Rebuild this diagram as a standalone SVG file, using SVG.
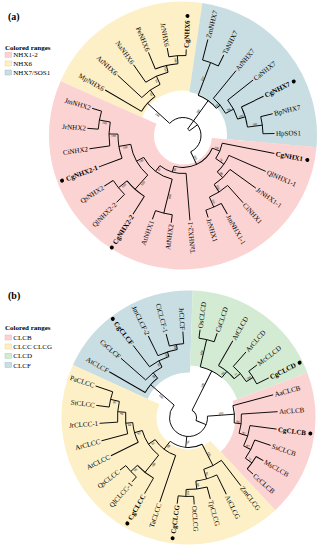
<svg xmlns="http://www.w3.org/2000/svg" width="323" height="550" viewBox="0 0 323 550">
<style>
.br line,.br circle{fill:none;stroke:#000;stroke-width:0.9}
.lb{font-family:"Liberation Serif","Times New Roman",serif;font-size:7px;fill:#000}
.cg{font-weight:bold}
.e{text-anchor:end}
.bs{font-family:"Liberation Serif","Times New Roman",serif;font-size:3.2px;text-anchor:middle;fill:#000}
.wd{fill:none}
.pk{stroke:#fcd3d3}
.yl{stroke:#fdf0c6}
.bl{stroke:#c9dee3}
.gn{stroke:#d4ebd3}
.lg{font-family:"Liberation Serif","Times New Roman",serif;font-size:7px;fill:#000}
.tt{font-family:"Liberation Serif","Times New Roman",serif;font-size:10px;font-weight:bold;fill:#000}
.dot{fill:#000}
</style>
<rect width="323" height="550" fill="#fff"/>

<!-- ===== Panel (a) ===== -->
<text class="tt" x="8" y="19.5">(a)</text>
<g id="legend-a">
<text class="lg cg" x="5" y="50">Colored ranges</text>
<rect x="5" y="52.3" width="6.7" height="5" fill="#fcd3d3" stroke="#f3b3b3" stroke-width="0.5"/>
<text class="lg" x="13.3" y="57">NHX1-2</text>
<rect x="5" y="61" width="6.7" height="5" fill="#fdf0c6" stroke="#ecd58f" stroke-width="0.5"/>
<text class="lg" x="13.3" y="66">NHX6</text>
<rect x="5" y="70" width="6.7" height="5" fill="#c9dee3" stroke="#9fc0c9" stroke-width="0.5"/>
<text class="lg" x="13.3" y="75">NHX7/SOS1</text>
</g>

<g id="tree-a" transform="translate(183 135.5)">
<g id="ranges-a">
<circle class="wd yl" r="89.5" stroke-width="89" pathLength="360" stroke-dasharray="74.2 400" transform="rotate(204.1)"/>
<circle class="wd bl" r="89" stroke-width="90" pathLength="360" stroke-dasharray="86.6 400" transform="rotate(278.3)"/>
<circle class="wd pk" r="81.5" stroke-width="105" pathLength="360" stroke-dasharray="199.2 400" transform="rotate(4.9)"/>
</g>
<g id="connectors-a" class="br">
<circle r="8" pathLength="360" stroke-dasharray="17.72 400" transform="rotate(305.78)"/>
<circle r="18" pathLength="360" stroke-dasharray="202.47 400" transform="rotate(222.28)"/>
<circle r="48" pathLength="360" stroke-dasharray="23.97 400" transform="rotate(210.3)"/>
<circle r="56" pathLength="360" stroke-dasharray="23.2 400" transform="rotate(222.67)"/>
<circle r="65" pathLength="360" stroke-dasharray="21.65 400" transform="rotate(235.04)"/>
<circle r="72" pathLength="360" stroke-dasharray="18.56 400" transform="rotate(247.41)"/>
<circle r="80" pathLength="360" stroke-dasharray="12.37 400" transform="rotate(259.78)"/>
<circle r="43" pathLength="360" stroke-dasharray="30.16 400" transform="rotate(290.7)"/>
<circle r="78" pathLength="360" stroke-dasharray="12.37 400" transform="rotate(284.52)"/>
<circle r="48" pathLength="360" stroke-dasharray="23.19 400" transform="rotate(309.26)"/>
<circle r="57" pathLength="360" stroke-dasharray="21.65 400" transform="rotate(321.63)"/>
<circle r="65" pathLength="360" stroke-dasharray="18.56 400" transform="rotate(334)"/>
<circle r="80" pathLength="360" stroke-dasharray="12.37 400" transform="rotate(346.37)"/>
<circle r="32" pathLength="360" stroke-dasharray="83.31 400" transform="rotate(23.09)"/>
<circle r="40" pathLength="360" stroke-dasharray="23.97 400" transform="rotate(11.11)"/>
<circle r="50" pathLength="360" stroke-dasharray="23.19 400" transform="rotate(23.48)"/>
<circle r="58" pathLength="360" stroke-dasharray="21.65 400" transform="rotate(35.85)"/>
<circle r="67" pathLength="360" stroke-dasharray="18.56 400" transform="rotate(48.22)"/>
<circle r="78" pathLength="360" stroke-dasharray="12.37 400" transform="rotate(60.59)"/>
<circle r="38" pathLength="360" stroke-dasharray="42.14 400" transform="rotate(85.33)"/>
<circle r="45" pathLength="360" stroke-dasharray="47.16 400" transform="rotate(103.89)"/>
<circle r="80" pathLength="360" stroke-dasharray="12.37 400" transform="rotate(97.7)"/>
<circle r="53" pathLength="360" stroke-dasharray="38.66 400" transform="rotate(131.72)"/>
<circle r="72" pathLength="360" stroke-dasharray="18.56 400" transform="rotate(122.44)"/>
<circle r="83" pathLength="360" stroke-dasharray="12.37 400" transform="rotate(134.81)"/>
<circle r="65" pathLength="360" stroke-dasharray="21.65 400" transform="rotate(159.55)"/>
<circle r="74" pathLength="360" stroke-dasharray="18.56 400" transform="rotate(171.92)"/>
<circle r="85" pathLength="360" stroke-dasharray="12.37 400" transform="rotate(184.29)"/>
<line x1="8" x2="18" transform="rotate(323.5)"/>
<line x1="8" x2="43" transform="rotate(305.78)"/>
<line x1="18" x2="48" transform="rotate(222.28)"/>
<line x1="18" x2="32" transform="rotate(64.75)"/>
<line x1="48" x2="56" transform="rotate(234.27)"/>
<line x1="56" x2="65" transform="rotate(245.87)"/>
<line x1="65" x2="72" transform="rotate(256.69)"/>
<line x1="72" x2="80" transform="rotate(265.97)"/>
<line x1="43" x2="78" transform="rotate(290.7)"/>
<line x1="43" x2="48" transform="rotate(320.86)"/>
<line x1="48" x2="57" transform="rotate(332.45)"/>
<line x1="57" x2="65" transform="rotate(343.28)"/>
<line x1="65" x2="80" transform="rotate(352.56)"/>
<line x1="32" x2="40" transform="rotate(23.09)"/>
<line x1="40" x2="50" transform="rotate(35.08)"/>
<line x1="50" x2="58" transform="rotate(46.67)"/>
<line x1="58" x2="67" transform="rotate(57.5)"/>
<line x1="67" x2="78" transform="rotate(66.78)"/>
<line x1="32" x2="38" transform="rotate(106.4)"/>
<line x1="38" x2="45" transform="rotate(127.47)"/>
<line x1="45" x2="80" transform="rotate(103.89)"/>
<line x1="45" x2="53" transform="rotate(151.05)"/>
<line x1="53" x2="72" transform="rotate(131.72)"/>
<line x1="72" x2="83" transform="rotate(141)"/>
<line x1="53" x2="65" transform="rotate(170.38)"/>
<line x1="65" x2="74" transform="rotate(181.2)"/>
<line x1="74" x2="85" transform="rotate(190.48)"/>
<line x1="48" x2="90.2" transform="rotate(210.3)"/>
<line x1="56" x2="88.9" transform="rotate(222.67)"/>
<line x1="65" x2="86.3" transform="rotate(235.04)"/>
<line x1="72" x2="90" transform="rotate(247.41)"/>
<line x1="80" x2="88.9" transform="rotate(259.78)"/>
<line x1="80" x2="86.1" transform="rotate(272.15)"/>
<line x1="78" x2="99.2" transform="rotate(284.52)"/>
<line x1="78" x2="90.2" transform="rotate(296.89)"/>
<line x1="48" x2="83.8" transform="rotate(309.26)"/>
<line x1="57" x2="89.4" transform="rotate(321.63)"/>
<line x1="65" x2="89.6" transform="rotate(334)"/>
<line x1="80" x2="92.3" transform="rotate(346.37)"/>
<line x1="80" x2="91.5" transform="rotate(358.74)"/>
<line x1="40" x2="93.1" transform="rotate(11.11)"/>
<line x1="50" x2="90.2" transform="rotate(23.48)"/>
<line x1="58" x2="89.8" transform="rotate(35.85)"/>
<line x1="67" x2="90.2" transform="rotate(48.22)"/>
<line x1="78" x2="90.2" transform="rotate(60.59)"/>
<line x1="78" x2="85.7" transform="rotate(72.96)"/>
<line x1="38" x2="85.1" transform="rotate(85.33)"/>
<line x1="80" x2="88.1" transform="rotate(97.7)"/>
<line x1="80" x2="89.2" transform="rotate(110.07)"/>
<line x1="72" x2="93.3" transform="rotate(122.44)"/>
<line x1="83" x2="94.3" transform="rotate(134.81)"/>
<line x1="83" x2="93.6" transform="rotate(147.18)"/>
<line x1="65" x2="89.7" transform="rotate(159.55)"/>
<line x1="74" x2="94.5" transform="rotate(171.92)"/>
<line x1="85" x2="95.9" transform="rotate(184.29)"/>
<line x1="85" x2="94.9" transform="rotate(196.66)"/>
</g>
<g id="support-a">
<text class="bs" transform="rotate(222.28) translate(33 -3) rotate(180)">100</text>
<text class="bs" transform="rotate(234.27) translate(52 -3) rotate(180)">98</text>
<text class="bs" transform="rotate(245.87) translate(60.5 -3) rotate(180)">54</text>
<text class="bs" transform="rotate(256.69) translate(68.5 -3) rotate(180)">100</text>
<text class="bs" transform="rotate(265.97) translate(76 -3) rotate(180)">100</text>
<text class="bs" transform="rotate(305.78) translate(28 -0.7)">100</text>
<text class="bs" transform="rotate(290.7) translate(60 -0.7)">100</text>
<text class="bs" transform="rotate(320.86) translate(45.5 -0.7)">100</text>
<text class="bs" transform="rotate(332.45) translate(52.5 -0.7)">98</text>
<text class="bs" transform="rotate(343.28) translate(61 -0.7)">100</text>
<text class="bs" transform="rotate(352.56) translate(72.5 -0.7)">100</text>
<text class="bs" transform="rotate(64.75) translate(25 -0.7)">100</text>
<text class="bs" transform="rotate(23.09) translate(36 -0.7)">100</text>
<text class="bs" transform="rotate(35.08) translate(45 -0.7)">78</text>
<text class="bs" transform="rotate(46.67) translate(54 -0.7)">99</text>
<text class="bs" transform="rotate(57.5) translate(62.5 -0.7)">100</text>
<text class="bs" transform="rotate(66.78) translate(72.5 -0.7)">100</text>
<text class="bs" transform="rotate(106.4) translate(35 -3) rotate(180)">98</text>
<text class="bs" transform="rotate(127.47) translate(41.5 -3) rotate(180)">97</text>
<text class="bs" transform="rotate(103.89) translate(62.5 -3) rotate(180)">100</text>
<text class="bs" transform="rotate(151.05) translate(49 -3) rotate(180)">100</text>
<text class="bs" transform="rotate(131.72) translate(62.5 -3) rotate(180)">100</text>
<text class="bs" transform="rotate(141) translate(77.5 -3) rotate(180)">100</text>
<text class="bs" transform="rotate(170.38) translate(59 -3) rotate(180)">100</text>
<text class="bs" transform="rotate(181.2) translate(69.5 -3) rotate(180)">100</text>
<text class="bs" transform="rotate(190.48) translate(79.5 -3) rotate(180)">100</text>
</g>
<g id="a-MpNHX6"><text class="lb e" dy="2.4" transform="rotate(210.3) translate(91.7 0) rotate(180)">MpNHX6</text></g>
<g id="a-AtNHX6"><text class="lb e" dy="2.4" transform="rotate(222.67) translate(90.4 0) rotate(180)">AtNHX6</text></g>
<g id="a-NaNHX6"><text class="lb e" dy="2.4" transform="rotate(235.04) translate(87.8 0) rotate(180)">NaNHX6</text></g>
<g id="a-PeNHX6"><text class="lb e" dy="2.4" transform="rotate(247.41) translate(91.5 0) rotate(180)">PeNHX6</text></g>
<g id="a-JrNHX6"><text class="lb e" dy="2.4" transform="rotate(259.78) translate(90.4 0) rotate(180)">JrNHX6</text></g>
<g id="a-CgNHX6"><text class="lb cg" dy="2.4" transform="rotate(272.15) translate(87.6 0)">CgNHX6</text><circle class="dot" cx="119.7" r="2" transform="rotate(272.15)"/></g>
<g id="a-ZmNHX7"><text class="lb" dy="2.4" transform="rotate(284.52) translate(100.7 0)">ZmNHX7</text></g>
<g id="a-TaNHX7"><text class="lb" dy="2.4" transform="rotate(296.89) translate(91.7 0)">TaNHX7</text></g>
<g id="a-AtNHX7"><text class="lb" dy="2.4" transform="rotate(309.26) translate(85.3 0)">AtNHX7</text></g>
<g id="a-CaNHX7"><text class="lb" dy="2.4" transform="rotate(321.63) translate(90.9 0)">CaNHX7</text></g>
<g id="a-CgNHX7"><text class="lb cg" dy="2.4" transform="rotate(334) translate(91.1 0)">CgNHX7</text><circle class="dot" cx="123.2" r="2" transform="rotate(334)"/></g>
<g id="a-BpNHX7"><text class="lb" dy="2.4" transform="rotate(346.37) translate(93.8 0)">BpNHX7</text></g>
<g id="a-HpSOS1"><text class="lb" dy="2.4" transform="rotate(358.74) translate(93 0)">HpSOS1</text></g>
<g id="a-CgNHX1"><text class="lb cg" dy="2.4" transform="rotate(11.11) translate(94.6 0)">CgNHX1</text><circle class="dot" cx="126.7" r="2" transform="rotate(11.11)"/></g>
<g id="a-QlNHX1-1"><text class="lb" dy="2.4" transform="rotate(23.48) translate(91.7 0)">QlNHX1-1</text></g>
<g id="a-JrNHX1-1"><text class="lb" dy="2.4" transform="rotate(35.85) translate(91.3 0)">JrNHX1-1</text></g>
<g id="a-CiNHX1"><text class="lb" dy="2.4" transform="rotate(48.22) translate(91.7 0)">CiNHX1</text></g>
<g id="a-JmNHX1-1"><text class="lb" dy="2.4" transform="rotate(60.59) translate(91.7 0)">JmNHX1-1</text></g>
<g id="a-JrNHX1"><text class="lb" dy="2.4" transform="rotate(72.96) translate(87.2 0)">JrNHX1</text></g>
<g id="a-TaNHX2-1"><text class="lb e" dy="2.4" transform="rotate(85.33) translate(86.6 0) rotate(180)">TaNHX2-1</text></g>
<g id="a-AtNHX2"><text class="lb e" dy="2.4" transform="rotate(97.7) translate(89.6 0) rotate(180)">AtNHX2</text></g>
<g id="a-AtNHX1"><text class="lb e" dy="2.4" transform="rotate(110.07) translate(90.7 0) rotate(180)">AtNHX1</text></g>
<g id="a-CgNHX2-2"><text class="lb e cg" dy="2.4" transform="rotate(122.44) translate(94.8 0) rotate(180)">CgNHX2-2</text><circle class="dot" cx="132.7" r="2" transform="rotate(122.44)"/></g>
<g id="a-QlNHX2-2"><text class="lb e" dy="2.4" transform="rotate(134.81) translate(95.8 0) rotate(180)">QlNHX2-2</text></g>
<g id="a-QsNHX2"><text class="lb e" dy="2.4" transform="rotate(147.18) translate(95.1 0) rotate(180)">QsNHX2</text></g>
<g id="a-CgNHX2-1"><text class="lb e cg" dy="2.4" transform="rotate(159.55) translate(91.2 0) rotate(180)">CgNHX2-1</text><circle class="dot" cx="129.1" r="2" transform="rotate(159.55)"/></g>
<g id="a-CiNHX2"><text class="lb e" dy="2.4" transform="rotate(171.92) translate(96 0) rotate(180)">CiNHX2</text></g>
<g id="a-JrNHX2"><text class="lb e" dy="2.4" transform="rotate(184.29) translate(97.4 0) rotate(180)">JrNHX2</text></g>
<g id="a-JmNHX2"><text class="lb e" dy="2.4" transform="rotate(196.66) translate(96.4 0) rotate(180)">JmNHX2</text></g>
</g>

<!-- ===== Panel (b) ===== -->
<text class="tt" x="8" y="298.5">(b)</text>
<g id="legend-b">
<text class="lg cg" x="5" y="330">Colored ranges</text>
<rect x="5" y="335" width="6.7" height="5" fill="#fcd3d3" stroke="#f3b3b3" stroke-width="0.5"/>
<text class="lg" x="13.3" y="340">CLCB</text>
<rect x="5" y="344" width="6.7" height="5" fill="#fdf0c6" stroke="#ecd58f" stroke-width="0.5"/>
<text class="lg" x="13.3" y="349">CLCC CLCG</text>
<rect x="5" y="353.3" width="6.7" height="5" fill="#d4ebd3" stroke="#a9d1a7" stroke-width="0.5"/>
<text class="lg" x="13.3" y="358.3">CLCD</text>
<rect x="5" y="362.5" width="6.7" height="5" fill="#c9dee3" stroke="#9fc0c9" stroke-width="0.5"/>
<text class="lg" x="13.3" y="367.5">CLCF</text>
</g>

<g id="tree-b" transform="translate(188.5 417.5)">
<g id="ranges-b">
<circle class="wd bl" r="86" stroke-width="82" pathLength="360" stroke-dasharray="67.5 400" transform="rotate(204.375)"/>
<circle class="wd gn" r="89.5" stroke-width="75" pathLength="360" stroke-dasharray="67.5 400" transform="rotate(271.875)"/>
<circle class="wd pk" r="87" stroke-width="80" pathLength="360" stroke-dasharray="67.5 400" transform="rotate(339.375)"/>
<circle class="wd yl" r="79.5" stroke-width="95" pathLength="360" stroke-dasharray="157.5 400" transform="rotate(46.875)"/>
</g>
<g id="connectors-b" class="br">
<circle r="8" pathLength="360" stroke-dasharray="85.5 400" transform="rotate(296.5)"/>
<circle r="19" pathLength="360" stroke-dasharray="225 400" transform="rotate(355.9)"/>
<circle r="50" pathLength="360" stroke-dasharray="21.8 400" transform="rotate(210)"/>
<circle r="57" pathLength="360" stroke-dasharray="21.09 400" transform="rotate(221.25)"/>
<circle r="64" pathLength="360" stroke-dasharray="19.69 400" transform="rotate(232.5)"/>
<circle r="69" pathLength="360" stroke-dasharray="16.88 400" transform="rotate(243.75)"/>
<circle r="74" pathLength="360" stroke-dasharray="11.25 400" transform="rotate(255)"/>
<circle r="52" pathLength="360" stroke-dasharray="26.7 400" transform="rotate(283.1)"/>
<circle r="80" pathLength="360" stroke-dasharray="11.25 400" transform="rotate(277.5)"/>
<circle r="60" pathLength="360" stroke-dasharray="19.7 400" transform="rotate(300)"/>
<circle r="68" pathLength="360" stroke-dasharray="16.85 400" transform="rotate(311.25)"/>
<circle r="76" pathLength="360" stroke-dasharray="11.25 400" transform="rotate(322.5)"/>
<circle r="46" pathLength="360" stroke-dasharray="21.8 400" transform="rotate(345)"/>
<circle r="53" pathLength="360" stroke-dasharray="21.05 400" transform="rotate(356.25)"/>
<circle r="62" pathLength="360" stroke-dasharray="19.7 400" transform="rotate(7.5)"/>
<circle r="70" pathLength="360" stroke-dasharray="16.85 400" transform="rotate(18.75)"/>
<circle r="78" pathLength="360" stroke-dasharray="11.25 400" transform="rotate(30)"/>
<circle r="30" pathLength="360" stroke-dasharray="64.6 400" transform="rotate(63)"/>
<circle r="54" pathLength="360" stroke-dasharray="21.1 400" transform="rotate(52.5)"/>
<circle r="64" pathLength="360" stroke-dasharray="19.65 400" transform="rotate(63.75)"/>
<circle r="72" pathLength="360" stroke-dasharray="16.9 400" transform="rotate(75)"/>
<circle r="79" pathLength="360" stroke-dasharray="11.25 400" transform="rotate(86.25)"/>
<circle r="40" pathLength="360" stroke-dasharray="37.65 400" transform="rotate(108.75)"/>
<circle r="48" pathLength="360" stroke-dasharray="35.9 400" transform="rotate(128.4)"/>
<circle r="70" pathLength="360" stroke-dasharray="16.9 400" transform="rotate(120)"/>
<circle r="79" pathLength="360" stroke-dasharray="11.25 400" transform="rotate(131.25)"/>
<circle r="56" pathLength="360" stroke-dasharray="21.05 400" transform="rotate(153.75)"/>
<circle r="63" pathLength="360" stroke-dasharray="19.7 400" transform="rotate(165)"/>
<circle r="71" pathLength="360" stroke-dasharray="16.85 400" transform="rotate(176.25)"/>
<circle r="80" pathLength="360" stroke-dasharray="11.25 400" transform="rotate(187.5)"/>
<line x1="8" x2="19" transform="rotate(22)"/>
<line x1="8" x2="52" transform="rotate(296.5)"/>
<line x1="19" x2="46" transform="rotate(355.9)"/>
<line x1="19" x2="30" transform="rotate(95.3)"/>
<line x1="19" x2="50" transform="rotate(220.9)"/>
<line x1="50" x2="57" transform="rotate(231.8)"/>
<line x1="57" x2="64" transform="rotate(242.34)"/>
<line x1="64" x2="69" transform="rotate(252.19)"/>
<line x1="69" x2="74" transform="rotate(260.63)"/>
<line x1="52" x2="80" transform="rotate(283.1)"/>
<line x1="52" x2="60" transform="rotate(309.8)"/>
<line x1="60" x2="68" transform="rotate(319.7)"/>
<line x1="68" x2="76" transform="rotate(328.1)"/>
<line x1="46" x2="53" transform="rotate(6.8)"/>
<line x1="53" x2="62" transform="rotate(17.3)"/>
<line x1="62" x2="70" transform="rotate(27.2)"/>
<line x1="70" x2="78" transform="rotate(35.6)"/>
<line x1="30" x2="54" transform="rotate(63)"/>
<line x1="54" x2="64" transform="rotate(73.6)"/>
<line x1="64" x2="72" transform="rotate(83.4)"/>
<line x1="72" x2="79" transform="rotate(91.9)"/>
<line x1="30" x2="40" transform="rotate(127.6)"/>
<line x1="40" x2="48" transform="rotate(146.4)"/>
<line x1="48" x2="70" transform="rotate(128.4)"/>
<line x1="70" x2="79" transform="rotate(136.9)"/>
<line x1="48" x2="56" transform="rotate(164.3)"/>
<line x1="56" x2="63" transform="rotate(174.8)"/>
<line x1="63" x2="71" transform="rotate(184.7)"/>
<line x1="71" x2="80" transform="rotate(193.1)"/>
<line x1="50" x2="91.5" transform="rotate(210)"/>
<line x1="57" x2="89.8" transform="rotate(221.25)"/>
<line x1="64" x2="90.8" transform="rotate(232.5)"/>
<line x1="69" x2="90.9" transform="rotate(243.75)"/>
<line x1="74" x2="86.5" transform="rotate(255)"/>
<line x1="74" x2="86.1" transform="rotate(266.25)"/>
<line x1="80" x2="88.5" transform="rotate(277.5)"/>
<line x1="80" x2="89" transform="rotate(288.75)"/>
<line x1="60" x2="88.6" transform="rotate(300)"/>
<line x1="68" x2="87.2" transform="rotate(311.25)"/>
<line x1="76" x2="86.2" transform="rotate(322.5)"/>
<line x1="76" x2="89.5" transform="rotate(333.75)"/>
<line x1="46" x2="87.6" transform="rotate(345)"/>
<line x1="53" x2="89.3" transform="rotate(356.25)"/>
<line x1="62" x2="88.9" transform="rotate(7.5)"/>
<line x1="70" x2="86.7" transform="rotate(18.75)"/>
<line x1="78" x2="86.4" transform="rotate(30)"/>
<line x1="78" x2="85.8" transform="rotate(41.25)"/>
<line x1="54" x2="86" transform="rotate(52.5)"/>
<line x1="64" x2="85.5" transform="rotate(63.75)"/>
<line x1="72" x2="84.2" transform="rotate(75)"/>
<line x1="79" x2="87.1" transform="rotate(86.25)"/>
<line x1="79" x2="86.9" transform="rotate(97.5)"/>
<line x1="40" x2="89.3" transform="rotate(108.75)"/>
<line x1="70" x2="87.9" transform="rotate(120)"/>
<line x1="79" x2="85.5" transform="rotate(131.25)"/>
<line x1="79" x2="86.3" transform="rotate(142.5)"/>
<line x1="56" x2="86.5" transform="rotate(153.75)"/>
<line x1="63" x2="90.1" transform="rotate(165)"/>
<line x1="71" x2="89.1" transform="rotate(176.25)"/>
<line x1="80" x2="93" transform="rotate(187.5)"/>
<line x1="80" x2="98.1" transform="rotate(198.75)"/>
</g>
<g id="support-b">
<text class="bs" transform="rotate(220.9) translate(34.5 -3) rotate(180)">100</text>
<text class="bs" transform="rotate(231.8) translate(53.5 -3) rotate(180)">88</text>
<text class="bs" transform="rotate(242.34) translate(60.5 -3) rotate(180)">96</text>
<text class="bs" transform="rotate(252.19) translate(66.5 -3) rotate(180)">100</text>
<text class="bs" transform="rotate(260.63) translate(71.5 -3) rotate(180)">98</text>
<text class="bs" transform="rotate(296.5) translate(35 -0.7)">100</text>
<text class="bs" transform="rotate(283.1) translate(66 -0.7)">100</text>
<text class="bs" transform="rotate(309.8) translate(56 -0.7)">96</text>
<text class="bs" transform="rotate(319.7) translate(64 -0.7)">77</text>
<text class="bs" transform="rotate(328.1) translate(72 -0.7)">100</text>
<text class="bs" transform="rotate(355.9) translate(32.5 -0.7)">100</text>
<text class="bs" transform="rotate(6.8) translate(49.5 -0.7)">64</text>
<text class="bs" transform="rotate(17.3) translate(57.5 -0.7)">82</text>
<text class="bs" transform="rotate(27.2) translate(66 -0.7)">87</text>
<text class="bs" transform="rotate(35.6) translate(74 -0.7)">72</text>
<text class="bs" transform="rotate(95.3) translate(24.5 -3) rotate(180)">96</text>
<text class="bs" transform="rotate(63) translate(42 -0.7)">100</text>
<text class="bs" transform="rotate(73.6) translate(59 -0.7)">86</text>
<text class="bs" transform="rotate(83.4) translate(68 -0.7)">84</text>
<text class="bs" transform="rotate(91.9) translate(75.5 -3) rotate(180)">100</text>
<text class="bs" transform="rotate(127.6) translate(35 -3) rotate(180)">98</text>
<text class="bs" transform="rotate(146.4) translate(44 -3) rotate(180)">86</text>
<text class="bs" transform="rotate(128.4) translate(59 -3) rotate(180)">100</text>
<text class="bs" transform="rotate(136.9) translate(74.5 -3) rotate(180)">98</text>
<text class="bs" transform="rotate(164.3) translate(52 -3) rotate(180)">93</text>
<text class="bs" transform="rotate(174.8) translate(59.5 -3) rotate(180)">64</text>
<text class="bs" transform="rotate(184.7) translate(67 -3) rotate(180)">99</text>
<text class="bs" transform="rotate(193.1) translate(75.5 -3) rotate(180)">80</text>
</g>
<g id="b-AtCLCF"><text class="lb e" dy="2.4" transform="rotate(210) translate(93 0) rotate(180)">AtCLCF</text></g>
<g id="b-CsCLCF"><text class="lb e" dy="2.4" transform="rotate(221.25) translate(91.3 0) rotate(180)">CsCLCF</text></g>
<g id="b-CgCLCF"><text class="lb e cg" dy="2.4" transform="rotate(232.5) translate(92.3 0) rotate(180)">CgCLCF</text><circle class="dot" cx="124.4" r="2" transform="rotate(232.5)"/></g>
<g id="b-JmCLCF-2"><text class="lb e" dy="2.4" transform="rotate(243.75) translate(92.4 0) rotate(180)">JmCLCF-2</text></g>
<g id="b-CiCLCF-1"><text class="lb e" dy="2.4" transform="rotate(255) translate(88 0) rotate(180)">CiCLCF-1</text></g>
<g id="b-JrCLCF"><text class="lb e" dy="2.4" transform="rotate(266.25) translate(87.6 0) rotate(180)">JrCLCF</text></g>
<g id="b-OsCLCD"><text class="lb" dy="2.4" transform="rotate(277.5) translate(90 0)">OsCLCD</text></g>
<g id="b-CsCLCD"><text class="lb" dy="2.4" transform="rotate(288.75) translate(90.5 0)">CsCLCD</text></g>
<g id="b-AtCLCD"><text class="lb" dy="2.4" transform="rotate(300) translate(90.1 0)">AtCLCD</text></g>
<g id="b-ArCLCD"><text class="lb" dy="2.4" transform="rotate(311.25) translate(88.7 0)">ArCLCD</text></g>
<g id="b-McCLCD"><text class="lb" dy="2.4" transform="rotate(322.5) translate(87.7 0)">McCLCD</text></g>
<g id="b-CgCLCD"><text class="lb cg" dy="2.4" transform="rotate(333.75) translate(91 0)">CgCLCD</text><circle class="dot" cx="123.9" r="2" transform="rotate(333.75)"/></g>
<g id="b-AaCLCB"><text class="lb" dy="2.4" transform="rotate(345) translate(89.1 0)">AaCLCB</text></g>
<g id="b-AtCLCB"><text class="lb" dy="2.4" transform="rotate(356.25) translate(90.8 0)">AtCLCB</text></g>
<g id="b-CgCLCB"><text class="lb cg" dy="2.4" transform="rotate(7.5) translate(90.4 0)">CgCLCB</text><circle class="dot" cx="122.9" r="2" transform="rotate(7.5)"/></g>
<g id="b-SsCLCB"><text class="lb" dy="2.4" transform="rotate(18.75) translate(88.2 0)">SsCLCB</text></g>
<g id="b-MsCLCB"><text class="lb" dy="2.4" transform="rotate(30) translate(87.9 0)">MsCLCB</text></g>
<g id="b-CcCLCB"><text class="lb" dy="2.4" transform="rotate(41.25) translate(87.3 0)">CcCLCB</text></g>
<g id="b-ZmCLCG"><text class="lb" dy="2.4" transform="rotate(52.5) translate(87.5 0)">ZmCLCG</text></g>
<g id="b-AtCLCG"><text class="lb" dy="2.4" transform="rotate(63.75) translate(87 0)">AtCLCG</text></g>
<g id="b-TpCLCG"><text class="lb" dy="2.4" transform="rotate(75) translate(85.7 0)">TpCLCG</text></g>
<g id="b-OtCLCG"><text class="lb" dy="2.4" transform="rotate(86.25) translate(88.6 0)">OtCLCG</text></g>
<g id="b-CgCLCG"><text class="lb e cg" dy="2.4" transform="rotate(97.5) translate(88.4 0) rotate(180)">CgCLCG</text><circle class="dot" cx="121.7" r="2" transform="rotate(97.5)"/></g>
<g id="b-TaCLCC"><text class="lb e" dy="2.4" transform="rotate(108.75) translate(90.8 0) rotate(180)">TaCLCC</text></g>
<g id="b-CgCLCC"><text class="lb e cg" dy="2.4" transform="rotate(120) translate(89.4 0) rotate(180)">CgCLCC</text><circle class="dot" cx="122.3" r="2" transform="rotate(120)"/></g>
<g id="b-QlCLCC-1"><text class="lb e" dy="2.4" transform="rotate(131.25) translate(87 0) rotate(180)">QlCLCC-1</text></g>
<g id="b-QsCLCC"><text class="lb e" dy="2.4" transform="rotate(142.5) translate(87.8 0) rotate(180)">QsCLCC</text></g>
<g id="b-AtCLCC"><text class="lb e" dy="2.4" transform="rotate(153.75) translate(88 0) rotate(180)">AtCLCC</text></g>
<g id="b-ArCLCC"><text class="lb e" dy="2.4" transform="rotate(165) translate(91.6 0) rotate(180)">ArCLCC</text></g>
<g id="b-JrCLCC-1"><text class="lb e" dy="2.4" transform="rotate(176.25) translate(90.6 0) rotate(180)">JrCLCC-1</text></g>
<g id="b-StCLCC"><text class="lb e" dy="2.4" transform="rotate(187.5) translate(94.5 0) rotate(180)">StCLCC</text></g>
<g id="b-PaCLCC"><text class="lb e" dy="2.4" transform="rotate(198.75) translate(99.6 0) rotate(180)">PaCLCC</text></g>
</g>
</svg>
